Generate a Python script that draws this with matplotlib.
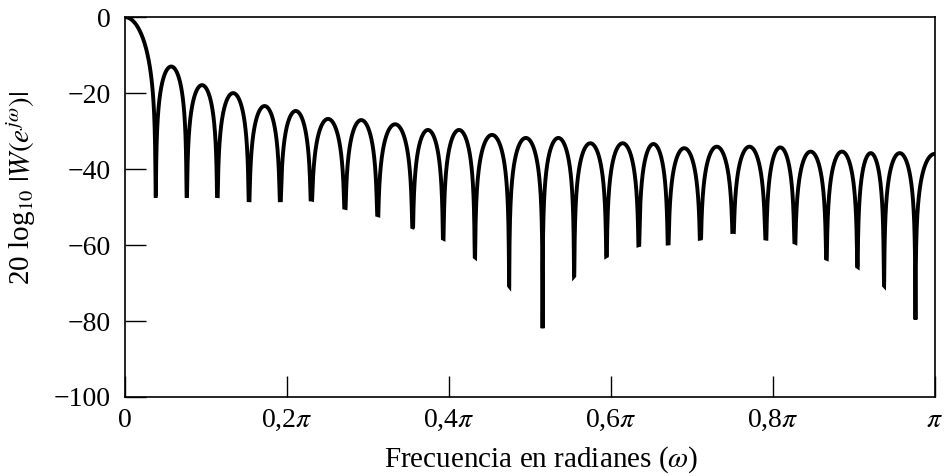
import numpy as np
import matplotlib
matplotlib.use('Agg')
import matplotlib.pyplot as plt

plt.rcParams['font.family'] = ['Liberation Serif', 'DejaVu Serif']
plt.rcParams['mathtext.fontset'] = 'stix'

# Null frequencies (in units of pi)
null_freq = [0.0379, 0.0762, 0.1140, 0.1531, 0.1917, 0.2300, 0.2716, 0.3120,
             0.3552, 0.3930, 0.4321, 0.4744, 0.5157, 0.5547, 0.5947, 0.6346,
             0.6707, 0.7107, 0.7510, 0.7914, 0.8272, 0.8663, 0.9046, 0.9374,
             0.9762]
# Depth of each null (dB)
null_db = [-47.1, -47.1, -47.1, -48.2, -48.2, -48.0, -50.2, -52.1, -55.3,
           -58.3, -63.2, -70.8, -81.9, -68.2, -62.9, -60.0, -59.6, -58.3,
           -56.5, -58.3, -59.3, -63.6, -65.7, -70.7, -79.6]
# Side-lobe peak levels (dB), lobes between consecutive nulls
peak_db = [-13.0, -17.9, -20.0, -23.4, -24.7, -26.8, -27.1, -28.2, -29.7,
           -29.7, -31.0, -31.8, -31.8, -33.2, -33.2, -33.4, -34.5, -34.1,
           -34.1, -34.3, -35.4, -35.4, -35.8, -35.8]
main_peak_db = 0.0
end_db = -36.0  # level at omega = pi

xtick_vals = [0, 0.2, 0.4, 0.6, 0.8, 1.0]
xtick_labels = ['0', r'0,2$\pi$', r'0,4$\pi$', r'0,6$\pi$', r'0,8$\pi$', r'$\pi$']
ytick_vals = [0, -20, -40, -60, -80, -100]
ytick_labels = ['0', '\u221220', '\u221240', '\u221260', '\u221280', '\u2212100']

n = 300
xs, ys = [], []
# main lobe
t = np.linspace(0, 1, n)
w = t * null_freq[0]
v = main_peak_db + 20 * np.log10(np.abs(np.sinc(t)) + 1e-12)
v = np.maximum(v, null_db[0])
xs.append(w); ys.append(v)
# side lobes
for i in range(len(peak_db)):
    a, b = null_freq[i], null_freq[i + 1]
    t = np.linspace(0, 1, n)
    s = 20 * np.log10(np.abs(np.sin(np.pi * t)) + 1e-12)
    v = peak_db[i] + s
    lo = np.linspace(null_db[i], null_db[i + 1], n)
    v = np.maximum(v, lo)
    v[0] = null_db[i]; v[-1] = null_db[i + 1]
    xs.append(a + t * (b - a)); ys.append(v)
# last partial lobe up to pi
a = null_freq[-1]
t = np.linspace(0, 0.5, n)
v = end_db + 20 * np.log10(np.abs(np.sin(np.pi * t)) + 1e-12)
v = np.maximum(v, null_db[-1])
xs.append(a + t / 0.5 * (1.0 - a)); ys.append(v)

x = np.concatenate(xs)
y = np.concatenate(ys)

fig = plt.figure(figsize=(9.47, 4.76), dpi=100)
ax = fig.add_axes([0.132, 0.166, 0.855, 0.798])
ax.plot(x, y, color='black', lw=2.8, solid_joinstyle='miter')
ax.set_xlim(0, 1)
ax.set_ylim(-100, 0)
ax.set_xticks(xtick_vals)
ax.set_xticklabels(xtick_labels)
ax.set_yticks(ytick_vals)
ax.set_yticklabels(ytick_labels)
ax.tick_params(direction='in', length=15, width=1, labelsize=20, pad=10)
ax.tick_params(axis='x', pad=8)
for sp in ax.spines.values():
    sp.set_linewidth(1.2)
ax.set_xlabel(r'Frecuencia en radianes ($\omega$)', fontsize=21, va='center')
ax.set_ylabel(r'20 log$_{10}$ $|W(e^{j\omega})|$', fontsize=21, va='center')
ax.xaxis.set_label_coords(0.514, -0.166)
ax.yaxis.set_label_coords(-0.128, 0.55)
fig.savefig('out.png', dpi=100)
